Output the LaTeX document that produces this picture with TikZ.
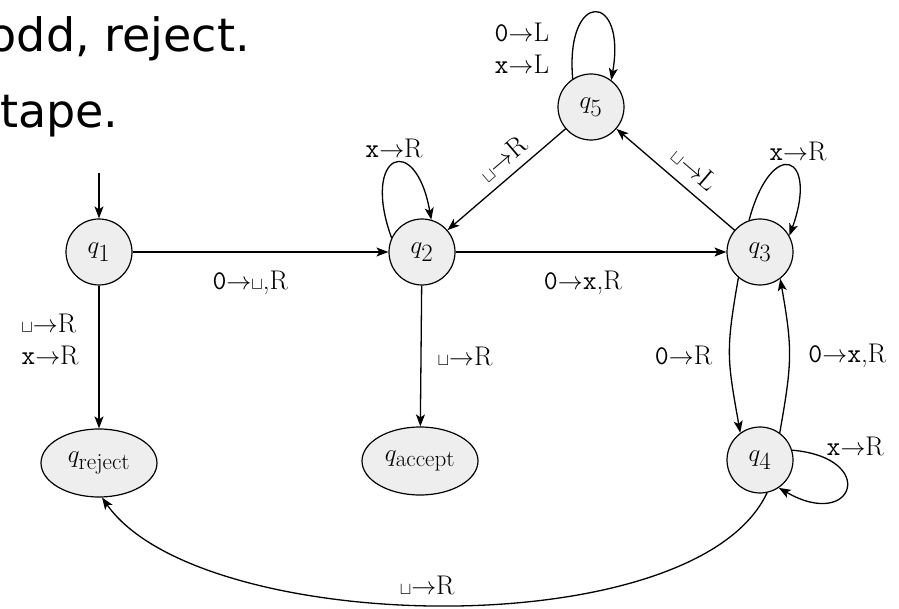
\documentclass[tikz,border=0pt]{standalone}
\usepackage{fontspec}
\newfontfamily\uifont{DejaVu Sans}
\usetikzlibrary{arrows.meta,shapes.geometric}
\newcommand{\blk}{\ensuremath{\scriptstyle\sqcup}}
\begin{document}
\begin{tikzpicture}[x=1pt,y=1pt,
  st/.style={circle,draw,fill=gray!13,line width=1.2pt,minimum size=66pt,inner sep=0pt,font=\fontsize{34}{34}\selectfont},
  fin/.style={ellipse,draw,fill=gray!13,line width=1.2pt,minimum width=116pt,minimum height=68pt,inner sep=0pt,font=\fontsize{33}{33}\selectfont},
  lab/.style={font=\fontsize{27}{32}\selectfont,inner sep=2pt},
  tr/.style={line width=1.3pt,-{Stealth[length=12pt,width=9pt,inset=3pt]}},
  big/.style={font=\uifont\fontsize{46}{46}\selectfont,inner sep=0pt}
]
\useasboundingbox (0,0) rectangle (899,608);
\node[big,anchor=base east] (t1) at (250,556) {odd, reject.};
\node[big,anchor=base west] (t2) at (0,480) {tape.};

\node[st] (q1) at (99,356) {$q_1$};
\node[st] (q2) at (422,356) {$q_2$};
\node[st] (q3) at (760,356) {$q_3$};
\node[st] (q4) at (760,148) {$q_4$};
\node[st] (q5) at (591,501) {$q_5$};
\node[fin] (qrej) at (99,145) {$q_{\mathrm{reject}}$};
\node[fin] (qacc) at (420,147) {$q_{\mathrm{accept}}$};

\coordinate (init) at (99,435);
\draw[tr] (init) -- (q1);

\draw[tr] (q1) -- node[lab,pos=0.46,yshift=-31pt]{\texttt{0}$\rightarrow$\blk,R} (q2);
\draw[tr] (q1) -- node[lab,pos=0.38,xshift=-49pt,align=left]{\blk$\rightarrow$R\\\texttt{x}$\rightarrow$R} (qrej);
\draw[tr] (q2) -- node[lab,pos=0.47,yshift=-31pt]{\texttt{0}$\rightarrow$\texttt{x},R} (q3);
\draw[tr] (q2) -- node[lab,pos=0.5,xshift=44pt]{\blk$\rightarrow$R} (qacc);

\draw[tr] (q2.155) .. controls +(110:90) and +(100:90) .. node[lab,pos=0.5,above=3pt]{\texttt{x}$\rightarrow$R} (q2.74);
\draw[tr] (q3.109) .. controls +(75:87) and +(70:87) .. node[lab,pos=0.5,above=2pt,xshift=9pt]{\texttt{x}$\rightarrow$R} (q3.29);
\draw[tr] (q5.123) .. controls +(95:90) and +(80:90) .. node[lab,pos=0.5,xshift=-73pt,yshift=-36pt,align=right]{\texttt{0}$\rightarrow$L\\\texttt{x}$\rightarrow$L} (q5.53);
\draw[tr] (q4.17) .. controls +(-5:87) and +(-30:87) .. node[lab,pos=0.5,xshift=9pt,yshift=42pt]{\texttt{x}$\rightarrow$R} (q4.-56);

\draw[tr] (q3.-130) .. controls +(-100:75) and +(100:75) .. node[lab,pos=0.5,xshift=-46pt]{\texttt{0}$\rightarrow$R} (q4.126);
\draw[tr] (q4.54) .. controls +(80:72) and +(-80:72) .. node[lab,pos=0.5,xshift=58pt]{\texttt{0}$\rightarrow$\texttt{x},R} (q3.-53);

\draw[tr] (q3) -- node[lab,sloped,pos=0.45,above=9pt]{\blk$\rightarrow$L} (q5);
\draw[tr] (q5) -- node[lab,sloped,pos=0.43,above=6pt]{\blk$\rightarrow$R} (q2);

\draw[tr] (q4.-78) .. controls +(-115:170) and +(-55:170) .. node[lab,pos=0.5,xshift=-17pt,yshift=20pt]{\blk$\rightarrow$R} (qrej.-85);
\end{tikzpicture}
\end{document}
